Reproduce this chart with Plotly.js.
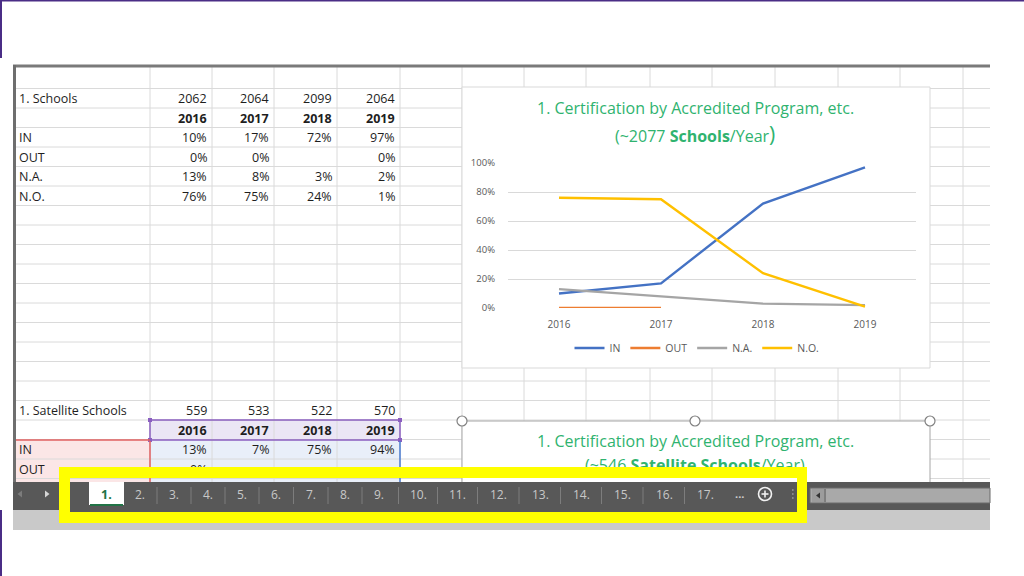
<!DOCTYPE html>
<html><head><meta charset="utf-8">
<script src="https://cdn.plot.ly/plotly-3.0.1.min.js"></script>
<style>html,body{margin:0;padding:0;background:#fff;}#chart{width:1024px;height:576px;}</style>
</head><body><div id="chart"></div>
<script>
// ---------------- data ----------------
const years = ['2016', '2017', '2018', '2019'];
const seriesNames = ['IN', 'OUT', 'N.A.', 'N.O.'];
const inValues = [0.10, 0.17, 0.72, 0.97];
const outValues = [0.00, 0.00, null, 0.00];
const naValues = [0.13, 0.08, 0.03, 0.02];
const noValues = [0.76, 0.75, 0.24, 0.01];
const schoolCounts = [2062, 2064, 2099, 2064];
const satelliteCounts = [559, 533, 522, 570];
const satelliteIn = [0.13, 0.07, 0.75, 0.94];
const satelliteOutFirst = [0.00];
const yTickValues = [0, 0.2, 0.4, 0.6, 0.8, 1.0];
const tabLabels = ['1.', '2.', '3.', '4.', '5.', '6.', '7.', '8.', '9.', '10.', '11.', '12.', '13.', '14.', '15.', '16.', '17.'];
const chartTitle1 = '1. Certification by Accredited Program, etc.';
const chartSub1 = '(~2077 <b>Schools</b>/Year<span style="font-size:21px">)</span>';
const chartTitle2 = '1. Certification by Accredited Program, etc.';
const chartSub2 = '(~546 <b>Satellite Schools</b>/Year)';
const sheetTitle1 = '1. Schools';
const sheetTitle2 = '1. Satellite Schools';

// ---------------- helpers ----------------
const W = 1024, H = 576;
const X = p => p / W, Y = p => 1 - p / H;
const FONT = '"Open Sans", Lato, sans-serif';
const TABLE_SIZE = 12.5;
const shapes = [];
const ann = [];
function rect(x0, y0, x1, y1, fill, lc, lw, layer) {
  shapes.push({type: 'rect', xref: 'paper', yref: 'paper', x0: X(x0), x1: X(x1), y0: Y(y1), y1: Y(y0),
    fillcolor: fill || 'rgba(0,0,0,0)', line: {color: lc || 'rgba(0,0,0,0)', width: lw || 0}, layer: layer || 'below'});
}
function ln(x0, y0, x1, y1, color, w, layer) {
  shapes.push({type: 'line', xref: 'paper', yref: 'paper', x0: X(x0), x1: X(x1), y0: Y(y0), y1: Y(y1),
    line: {color: color, width: w}, layer: layer || 'below'});
}
function circ(cx, cy, r, fill, lc, lw, layer) {
  shapes.push({type: 'circle', xref: 'paper', yref: 'paper', x0: X(cx - r), x1: X(cx + r), y0: Y(cy + r), y1: Y(cy - r),
    fillcolor: fill, line: {color: lc, width: lw}, layer: layer || 'below'});
}
function tri(pts, fill, layer) {
  const d = 'M' + pts.map(p => X(p[0]) + ',' + Y(p[1])).join('L') + 'Z';
  shapes.push({type: 'path', xref: 'paper', yref: 'paper', path: d, fillcolor: fill, line: {width: 0}, layer: layer || 'above'});
}
function txt(text, x, y, opts) {
  opts = opts || {};
  ann.push({text: text, xref: 'paper', yref: 'paper', x: X(x), y: Y(y), showarrow: false,
    xanchor: opts.xa || 'left', yanchor: 'middle',
    font: {family: opts.family || FONT, size: opts.size || TABLE_SIZE, color: opts.color || '#1e1e1e', weight: opts.weight || 'normal'}});
}
function coverBox(x0, y0, x1, y1, color) {
  ann.push({text: '\u00a0', xref: 'paper', yref: 'paper', x: X(x0), y: Y(y0), xanchor: 'left', yanchor: 'top',
    showarrow: false, width: x1 - x0, height: y1 - y0, bgcolor: color, borderpad: 0, borderwidth: 0,
    font: {size: 1, color: color}});
}
const pct = v => (v === null ? '' : Math.round(v * 100) + '%');

// ---------------- spreadsheet grid ----------------
const colEdges = [150, 212, 274, 337, 400, 462, 524, 586, 650, 712, 775, 838, 900, 963];
const sheetTop = 67, sheetBottom = 482, sheetLeft = 16, sheetRight = 990;
const rowH = 19.5, firstRowLine = 88.5;
const rowLines = [];
for (let yy = firstRowLine; yy < sheetBottom; yy += rowH) rowLines.push(yy);
const rowCenter = k => firstRowLine + rowH * k - rowH / 2 + 0.5;

rect(150, 420, 400, 440, '#ebe6f5');
rect(sheetLeft, 440, 150, sheetBottom, '#fbe6e6');
rect(150, 440, 400, sheetBottom, '#e9eff9');

colEdges.forEach(c => ln(c, sheetTop, c, sheetBottom, '#dadada', 1));
rowLines.forEach(r => ln(sheetLeft, r, sheetRight, r, '#dadada', 1));
ln(13, 66, sheetRight, 66, '#7a7a7a', 3);
ln(14.5, 65, 14.5, sheetBottom, '#6e6e6e', 3);

rect(150, 420, 400, 440, null, '#8a5fc0', 1.5);
[[150, 420], [400, 420], [150, 440], [400, 440]].forEach(p => rect(p[0] - 2, p[1] - 2, p[0] + 2, p[1] + 2, '#8a5fc0'));
ln(sheetLeft, 440, 150, 440, '#e06060', 1.5);
ln(150, 441, 150, sheetBottom, '#e06060', 1.5);
ln(400, 441, 400, sheetBottom, '#4a7bd0', 1.5);

rect(462, 87, 930, 368, '#ffffff', '#d9d9d9', 1);
rect(462, 421, 930, 500, '#ffffff', '#a6a6a6', 1);
[[462, 421], [695, 421], [930, 421]].forEach(p => circ(p[0], p[1], 5, '#ffffff', '#808080', 1.2));

// ---------------- sheet text ----------------
const valueCols = [212, 274, 337, 400];
txt(sheetTitle1, 17, rowCenter(1));
schoolCounts.forEach((v, i) => txt(String(v), valueCols[i] - 3, rowCenter(1), {xa: 'right'}));
years.forEach((v, i) => txt(v, valueCols[i] - 3, rowCenter(2), {xa: 'right', weight: 'bold'}));
const block = [inValues, outValues, naValues, noValues];
seriesNames.forEach((nm, r) => {
  txt(nm, 17, rowCenter(3 + r));
  block[r].forEach((v, i) => txt(pct(v), valueCols[i] - 3, rowCenter(3 + r), {xa: 'right'}));
});
txt(sheetTitle2, 17, rowCenter(17));
satelliteCounts.forEach((v, i) => txt(String(v), valueCols[i] - 3, rowCenter(17), {xa: 'right'}));
years.forEach((v, i) => txt(v, valueCols[i] - 3, rowCenter(18), {xa: 'right', weight: 'bold'}));
txt(seriesNames[0], 17, rowCenter(19));
satelliteIn.forEach((v, i) => txt(pct(v), valueCols[i] - 3, rowCenter(19), {xa: 'right'}));
txt(seriesNames[1], 17, rowCenter(20));
satelliteOutFirst.forEach((v, i) => txt(pct(v), valueCols[i] - 3, rowCenter(20), {xa: 'right'}));

// chart titles
const GREEN = '#2fb36f';
const TSIZE = 16;
txt(chartTitle1, 695, 108, {xa: 'center', size: TSIZE, color: GREEN});
txt(chartSub1, 695, 134, {xa: 'center', size: TSIZE, color: GREEN});
txt(chartTitle2, 695, 441, {xa: 'center', size: TSIZE, color: GREEN});
txt(chartSub2, 695, 465, {xa: 'center', size: TSIZE, color: GREEN});

// ---------------- tab bar ----------------
rect(13, 482, sheetRight, 510, '#585858');
rect(13, 510, sheetRight, 530, '#c9c9c9');
tri([[22, 490.5], [17.5, 494], [22, 497.5]], '#7c7c7c');
tri([[45, 490.5], [49.5, 494], [45, 497.5]], '#d6d6d6');
coverBox(59, 467, 807, 478, '#ffff00');
rect(59, 478, 70, 523, '#ffff00', null, 0, 'above');
rect(797, 478, 807, 523, '#ffff00', null, 0, 'above');
rect(59, 512, 807, 523, '#ffff00', null, 0, 'above');
rect(70, 510, 797, 512, '#585858', null, 0, 'above');
rect(89, 482, 124, 505, '#ffffff', null, 0, 'above');
ln(90, 505, 123, 505, '#217346', 2, 'above');
const tabCenters = [106, 140, 174, 208, 242, 276, 311, 345, 379, 418, 457, 498, 540, 581, 622, 664, 705];
tabCenters.forEach((c, i) => {
  if (i >= 2) {
    const s = (tabCenters[i - 1] + c) / 2;
    ln(s, 487, s, 504, '#7d7d7d', 1, 'above');
  }
  txt(tabLabels[i], c, 494, i === 0 ? {xa: 'center', size: 12.5, color: '#217346', weight: 'bold'}
                                   : {xa: 'center', size: 12, color: '#c8c8c8'});
});
txt('...', 739, 493, {xa: 'center', size: 11, color: '#d0d0d0', weight: 'bold'});
circ(765, 494, 6.5, 'rgba(0,0,0,0)', '#f2f2f2', 1.6, 'above');
ln(761.5, 494, 768.5, 494, '#f2f2f2', 1.6, 'above');
ln(765, 490.5, 765, 497.5, '#f2f2f2', 1.6, 'above');
[490, 494, 498].forEach(yy => rect(792, yy - 0.8, 793.6, yy + 0.8, '#9a9a9a', null, 0, 'above'));
rect(810, 488, sheetRight, 503, '#a9a9a9', '#6a6a6a', 1, 'above');
rect(812, 489, 824, 502, '#9c9c9c', null, 0, 'above');
tri([[820, 492.5], [816, 495.5], [820, 498.5]], '#333333');
ln(825, 489, 825, 502, '#555555', 1, 'above');

ln(0, 0.75, W, 0.75, '#4a2d86', 1.5, 'above');
ln(1, 0, 1, 58, '#4a2d86', 2, 'above');
ln(1, 510, 1, 576, '#4a2d86', 2, 'above');

// ---------------- chart traces ----------------
const colors = ['#4472c4', '#ed7d31', '#a5a5a5', '#ffc000'];
const seriesValues = [inValues, outValues, naValues, noValues];
const traces = seriesNames.map((nm, i) => ({
  type: 'scatter', mode: 'lines', name: nm, x: years, y: seriesValues[i],
  line: {color: colors[i], width: 2.4}, connectgaps: false, hoverinfo: 'skip'
}));

const layout = {
  width: W, height: H, margin: {l: 0, r: 0, t: 0, b: 0},
  paper_bgcolor: '#ffffff', plot_bgcolor: 'rgba(0,0,0,0)',
  showlegend: true,
  legend: {orientation: 'h', x: X(697), xanchor: 'center', y: Y(348), yanchor: 'middle',
    font: {family: FONT, size: 10.5, color: '#595959'}, bgcolor: 'rgba(0,0,0,0)', itemwidth: 30, tracegroupgap: 0},
  xaxis: {type: 'category', domain: [X(508), X(916)], range: [-0.5, 3.5], showgrid: false, zeroline: false,
    showline: false, ticks: '', ticklabelstandoff: 9, tickfont: {family: FONT, size: 10, color: '#595959'}, fixedrange: true},
  yaxis: {domain: [Y(308), Y(163)], range: [0, 1], tickvals: yTickValues, tickformat: '.0%', showgrid: true,
    gridcolor: '#d9d9d9', gridwidth: 1, zeroline: false, showline: false, ticks: '', ticklabelstandoff: 12,
    tickfont: {family: FONT, size: 9.5, color: '#595959'}, fixedrange: true},
  shapes: shapes, annotations: ann
};
Plotly.newPlot('chart', traces, layout, {staticPlot: true, displayModeBar: false});
</script></body></html>
